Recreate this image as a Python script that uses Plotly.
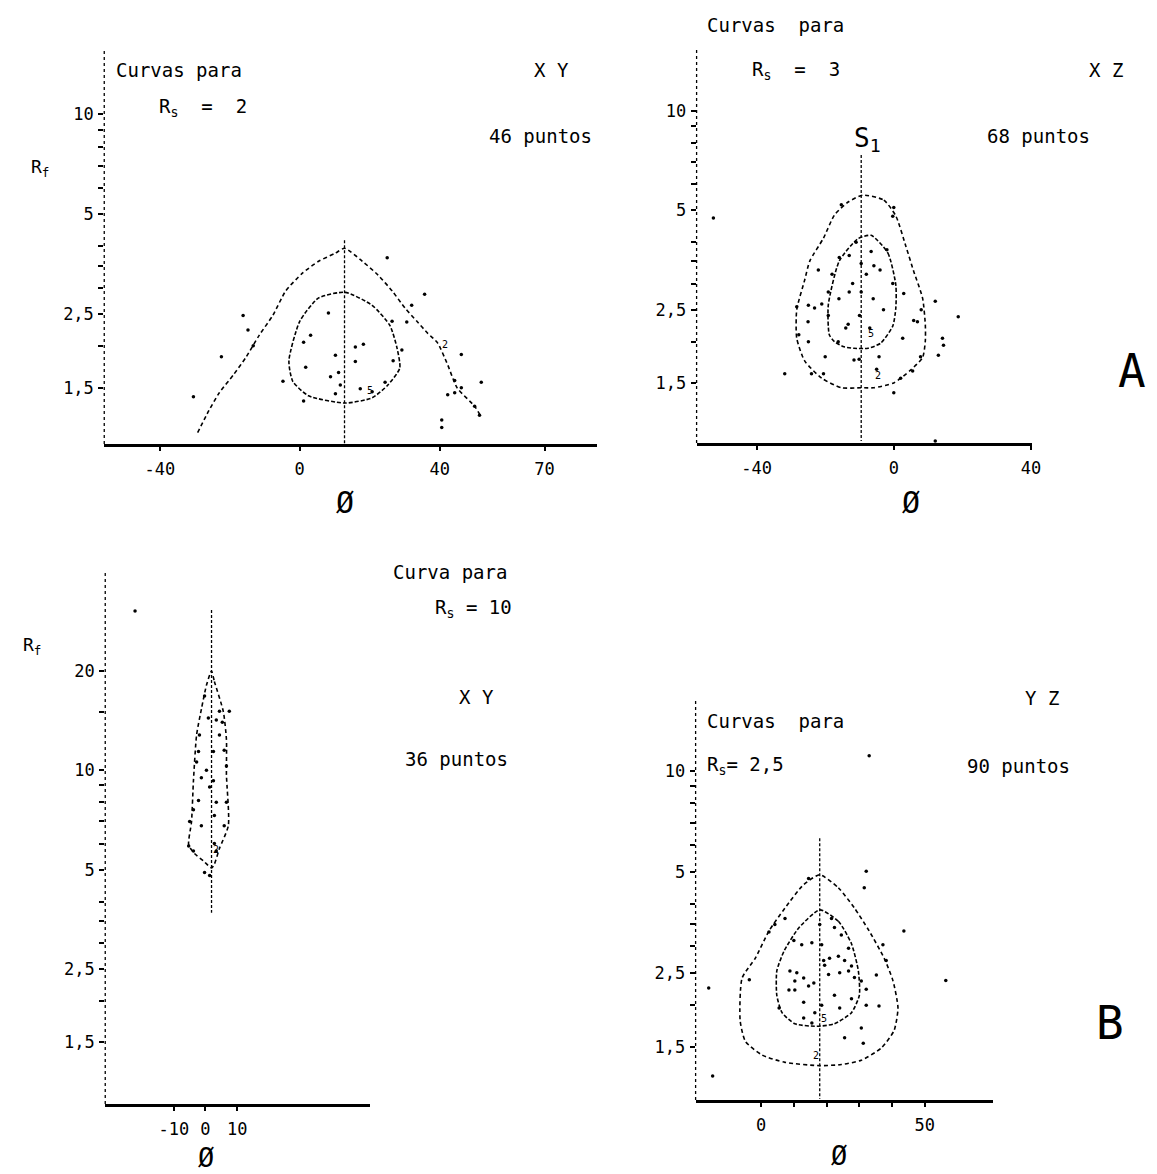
import math
import plotly.graph_objects as go

W, H = 1157, 1174

# ---------------- Panel A-left : XY, Rs = 2, 46 puntos ----------------
a1_outer_phi = [-29.2, -26, -23, -19, -15.3, -11.6, -7.7, -4, 0.85, 5.4, 10.2, 12.8, 17.9, 22.4,
                26.4, 30.1, 33.5, 36.6, 39.4, 42.3, 45, 50, 52]
a1_outer_rf = [1.10, 1.28, 1.45, 1.64, 1.86, 2.16, 2.48, 2.94, 3.33, 3.61, 3.82, 3.95, 3.61, 3.28,
               2.94, 2.61, 2.38, 2.19, 2.05, 1.76, 1.50, 1.32, 1.22]
a1_inner_phi = [13, 20.7, 25.8, 27.8, 28.6, 25.2, 20.7, 13, 2.5, -2, -3.1, 0, 5.4, 13]
a1_inner_rf = [2.91, 2.66, 2.31, 1.98, 1.72, 1.53, 1.40, 1.35, 1.42, 1.57, 1.81, 2.38, 2.80, 2.91]
a1_pts_phi = [-30.4, -22.4, -16.2, -14.8, -13.3, 25, 35.7, 30.6, 26.4, 46.2, 51.9, 44.3, 46.2,
              42.3, 44.3, 50, 51.4, 40.6, 40.6, 3.1, 1.1, 8.2, 10.2, 15.9, 18.2, 15.9, 11.1, 8.8,
              1.7, 11.6, 10.2, 17.3, 24.4, 20.7, 1.1, 29.2, 26.7, -4.8, 32]
a1_pts_rf = [1.41, 1.86, 2.48, 2.24, 2.01, 3.70, 2.87, 2.37, 2.38, 1.89, 1.56, 1.58, 1.50,
             1.43, 1.45, 1.32, 1.24, 1.20, 1.14, 2.16, 2.06, 2.52, 1.88, 1.99, 2.03, 1.80, 1.67, 1.62,
             1.73, 1.53, 1.44, 1.49, 1.56, 1.46, 1.37, 1.95, 1.81, 1.57, 2.66]
a1_mode = (12.8, 4.18, 1.0)
a1_xticks = [-40, 0, 40, 70]

# ---------------- Panel A-right : XZ, Rs = 3, 68 puntos ----------------
a2_outer_phi = [-9, -2.9, 0.6, 3.5, 5.8, 8.4, 9.2, 9.2, 8.4, 4.9, 0, -5.8, -9.5, -15.3, -21, -26,
                -28.3, -28.3, -26, -24.5, -20.5, -17.3, -13.3, -9]
a2_outer_rf = [5.56, 5.37, 4.81, 3.90, 3.27, 2.71, 2.25, 2.01, 1.79, 1.64, 1.50, 1.45, 1.45, 1.45,
               1.55, 1.75, 2.05, 2.50, 3.07, 3.51, 4.12, 4.84, 5.30, 5.56]
a2_inner_phi = [-6.6, -1.7, 0.6, 0.6, -0.3, -3.8, -7.5, -11.6, -14.5, -17.3, -18.8, -19.1, -15.9, -10.5, -6.6]
a2_inner_rf = [4.2, 3.71, 2.97, 2.53, 2.23, 1.98, 1.91, 1.91, 1.93, 2.0, 2.10, 2.58, 3.51, 4.1, 4.2]
a2_pts_phi = [-52.6, -31.8, -28.3, -24.9, -23.1, -19.1, -19.1, -13, -9.5, -15.9, -13, -9.5, -6.6,
              -5.8, -0.3, 2.9, 5.8, 12.1, 18.8, 14.2, 14.5, 13, -16.2, -13.3, -11.6, -10.1, -4.3,
              0, 12.1, 0, -0.3, -15.3, -24, -20.5, 5.5, 7.8, 6.9, 2.6, -21, -24.9, -27.7, -12,
              -8, -4, -16, -6, -10, -3, -14, -7, -18, -2, -11, -22, -25, 8, -20, -5, 2]
a2_pts_rf = [4.74, 1.6, 2.55, 2.58, 2.53, 2.4, 2.83, 2.83, 2.83, 3.6, 3.65, 3.45, 3.75,
             3.4, 3.0, 2.8, 2.32, 2.65, 2.38, 2.05, 1.95, 1.82, 2.0, 2.26, 1.76, 1.77, 1.8,
             1.4, 1.0, 5.1, 4.8, 5.2, 1.6, 1.6, 1.63, 1.8, 2.3, 2.05, 2.6, 2.0, 2.1, 3.0,
             3.2, 3.3, 2.7, 2.7, 2.4, 2.5, 2.2, 2.2, 3.2, 3.8, 4.0, 3.3, 2.3, 2.5, 1.8, 1.65, 1.55]
a2_mode = (-9.5, 7.36, 1.0)
a2_xticks = [-40, 0, 40]

# ---------------- Panel B-left : XY, Rs = 10, 36 puntos ----------------
b1_curve_phi = [1.9, 2.8, 5.6, 6.6, 6.6, 7.2, 4.4, 2.8, 1.9, -0.5, -3.5, -5.3, -4.4, -3.8, -2.8, -1.25, 0.3, 1.9]
b1_curve_rf = [20, 18.6, 15.1, 12.4, 9.7, 6.8, 5.8, 5.2, 5.06, 5.3, 5.6, 5.94, 7.0, 9.3, 12.8, 15.4, 18.1, 20]
b1_pts_phi = [-22.2, 7.5, 4.4, 3.4, 5.3, 5.9, 2.5, 6.6, 0.3, -1.3, 2.5, 1.3, -2.2, -3.8, 3.4, 6.6,
              2.8, -1.3, 5.9, -5, -5.3, -3.8, 2.8, 3.4, -0.3, 1.3, -1.9, -2.8, -2.2, -0.3, 0.9, 4.4]
b1_pts_rf = [30.4, 15.1, 15.1, 14.2, 14.0, 11.5, 11.4, 10.3, 10.0, 9.5, 9.3, 8.9, 8.1, 7.6, 8.0, 8.0,
             7.3, 6.8, 6.8, 7.0, 5.9, 5.7, 6.0, 5.7, 4.9, 4.8, 12.8, 10.6, 11.4, 16.8, 14.4, 12.8]
b1_mode = (1.9, 30.6, 3.7)
b1_xticks = [-10, 0, 10]

# ---------------- Panel B-right : YZ, Rs = 2,5, 90 puntos ----------------
b2_outer_phi = [17.9, 23.6, 28.5, 33, 37.6, 40.3, 41.8, 40.6, 36.7, 30.6, 24.5, 17.9, 7.3, 0.3,
                -4.8, -6.4, -5.8, -1.8, 2.4, 7.3, 13, 17.9]
b2_outer_rf = [4.9, 4.48, 3.9, 3.33, 2.76, 2.36, 1.96, 1.68, 1.49, 1.37, 1.33, 1.32, 1.35, 1.42,
               1.56, 1.80, 2.41, 2.76, 3.33, 3.90, 4.58, 4.9]
b2_inner_phi = [17.9, 23.6, 27.6, 29.7, 30, 27.6, 22.4, 17, 10.3, 6.4, 4.8, 4.8, 7, 11.5, 17.9]
b2_inner_rf = [3.85, 3.56, 3.05, 2.53, 2.14, 1.90, 1.76, 1.73, 1.76, 1.90, 2.14, 2.53, 2.90, 3.40, 3.85]
b2_pts_phi = [33, 32.1, 43.6, 56.4, -16, -14.8, 25.5, 30.6, 36, 38.2, 37.2, 35.2, 32.1, 30.6, 22.4,
              24, 26.7, 20.9, 23.6, 19.1, 18.5, 15.5, 12.4, 10, 17.9, 21.5, 22.4, 24.5, 26.7, 8.8,
              10.9, 13, 10.3, 16.1, 14.5, 10.3, 13, 16.4, 18.5, 24, 27.6, 32.1, 28.5, 4.2, 7.3,
              2.4, 31.5, 14.5, -3.6, 19.4, 25.5, 27.6, 20.6, 8.5, 5.5, 13, 15.5, 31.2]
b2_pts_rf = [11.1, 5.02, 3.33, 2.37, 2.25, 1.23, 1.60, 1.71, 1.99, 2.72, 3.03, 2.46, 2.23, 2.36, 2.14,
             2.50, 2.53, 2.76, 2.80, 2.72, 3.03, 3.07, 3.03, 3.12, 3.48, 3.63, 3.41, 3.24, 2.96, 2.53,
             2.50, 2.41, 2.36, 2.33, 2.28, 2.22, 2.04, 1.90, 2.00, 1.96, 2.09, 2.00, 2.42, 3.48, 3.63,
             3.31, 4.48, 4.78, 2.38, 2.63, 2.72, 2.62, 2.47, 2.22, 1.96, 1.83, 1.77, 1.54]
b2_mode = (17.9, 6.3, 1.05)
b2_xticks = [0, 50]
b2_xminor = [10, 20, 30, 40]

# y tick values (Rf): labelled majors and unlabelled minors
yt_major_a = [10, 5, 2.5, 1.5]
yt_minor_a = [9, 8, 7, 6, 4, 3.5, 3, 2]
yt_major_b1 = [20, 10, 5, 2.5, 1.5]
yt_minor_b1 = [15, 9, 8, 7, 6, 4, 3.5, 3, 2]
ylabels = {20: "20", 10: "10", 5: "5", 2.5: "2,5", 1.5: "1,5"}

MONO = "DejaVu Sans Mono"
BLACK = "black"

panels = [
    dict(xa="x", ya="y", box=(97, 594, 40, 436), xr=(-55.9, 85.1), yr=(0.007, 1.200),
         ytM=yt_major_a, ytm=yt_minor_a, xt=a1_xticks, xm=[],
         outer=(a1_outer_phi, a1_outer_rf), inner=(a1_inner_phi, a1_inner_rf),
         pts=(a1_pts_phi, a1_pts_rf), mode=a1_mode,
         labels=[("2", 41.4, 2.02), ("5", 20.1, 1.47)]),
    dict(xa="x2", ya="y2", box=(694, 1032, 40, 435), xr=(-57.5, 40.3), yr=(-0.006, 1.191),
         ytM=yt_major_a, ytm=yt_minor_a, xt=a2_xticks, xm=[],
         outer=(a2_outer_phi, a2_outer_rf), inner=(a2_inner_phi, a2_inner_rf),
         pts=(a2_pts_phi, a2_pts_rf), mode=a2_mode,
         labels=[("2", -4.6, 1.58), ("5", -6.6, 2.12)]),
    dict(xa="x3", ya="y3", box=(98, 365, 565, 1096), xr=(-31.6, 51.9), yr=(-0.011, 1.598),
         ytM=yt_major_b1, ytm=yt_minor_b1, xt=b1_xticks, xm=[],
         outer=(b1_curve_phi, b1_curve_rf), inner=None,
         pts=(b1_pts_phi, b1_pts_rf), mode=b1_mode,
         labels=[("2", 3.4, 5.74)]),
    dict(xa="x4", ya="y4", box=(693, 993, 692, 1092), xr=(-20, 70.9), yr=(0.018, 1.212),
         ytM=yt_major_a, ytm=yt_minor_a, xt=b2_xticks, xm=b2_xminor,
         outer=(b2_outer_phi, b2_outer_rf), inner=(b2_inner_phi, b2_inner_rf),
         pts=(b2_pts_phi, b2_pts_rf), mode=b2_mode,
         labels=[("5", 19.1, 1.83), ("2", 16.7, 1.42)]),
]

fig = go.Figure()
layout = dict(width=W, height=H, margin=dict(l=0, r=0, t=0, b=0),
              paper_bgcolor="white", plot_bgcolor="white", showlegend=False,
              font=dict(family=MONO, color=BLACK))
annotations = []
shapes = []

for p in panels:
    xa, ya = p["xa"], p["ya"]
    x0, x1, y0, y1 = p["box"]
    xkey = "xaxis" + xa[1:]
    ykey = "yaxis" + ya[1:]
    layout[xkey] = dict(domain=[x0 / W, x1 / W], range=list(p["xr"]), anchor=ya,
                        tickvals=p["xt"], ticktext=[str(v) for v in p["xt"]], showline=True, linewidth=3,
                        linecolor=BLACK, ticks="outside", ticklen=4, tickwidth=2, tickcolor=BLACK,
                        minor=dict(tickvals=p["xm"], ticks="outside", ticklen=4, tickwidth=2,
                                   tickcolor=BLACK, showgrid=False),
                        showgrid=False, zeroline=False, tickfont=dict(family=MONO, size=17, color=BLACK),
                        ticklabelstandoff=4)
    layout[ykey] = dict(domain=[1 - y1 / H, 1 - y0 / H], type="log", range=list(p["yr"]), anchor=xa,
                        tickvals=p["ytM"], ticktext=[ylabels[v] for v in p["ytM"]],
                        minor=dict(tickvals=p["ytm"], ticks="outside", ticklen=5, tickwidth=2,
                                   tickcolor=BLACK, showgrid=False),
                        showline=False, ticks="outside", ticklen=5, tickwidth=2, tickcolor=BLACK,
                        showgrid=False, zeroline=False, tickfont=dict(family=MONO, size=17, color=BLACK),
                        ticklabelstandoff=1)
    shapes.append(dict(type="line", xref=xa + " domain", yref=ya + " domain", x0=0, x1=0, y0=0, y1=1,
                       line=dict(color=BLACK, width=1.3, dash="dot")))
    mphi, mtop, mbot = p["mode"]
    fig.add_trace(go.Scatter(x=[mphi, mphi], y=[mtop, mbot], xaxis=xa, yaxis=ya, mode="lines",
                             line=dict(color=BLACK, width=1.3, dash="3px,2px"), hoverinfo="skip"))
    for c, dash in ((p["outer"], "4px,3px"), (p["inner"], "4px,2px")):
        if c is None:
            continue
        fig.add_trace(go.Scatter(x=c[0], y=c[1], xaxis=xa, yaxis=ya, mode="lines",
                                 line=dict(color=BLACK, width=1.6, dash=dash, shape="spline", smoothing=0.6),
                                 hoverinfo="skip"))
    fig.add_trace(go.Scatter(x=p["pts"][0], y=p["pts"][1], xaxis=xa, yaxis=ya, mode="markers",
                             marker=dict(color=BLACK, size=3.5)))
    for t, lx, ly in p["labels"]:
        annotations.append(dict(text=t, x=lx, y=math.log10(ly), xref=xa, yref=ya, showarrow=False,
                                font=dict(family=MONO, size=10, color=BLACK)))


def ann(text, px, py, size=19, xanchor="left"):
    annotations.append(dict(text=text, x=px / W, y=1 - py / H, xref="paper", yref="paper",
                            xanchor=xanchor, yanchor="middle", showarrow=False,
                            font=dict(family=MONO, size=size, color=BLACK)))


# Panel A-left texts
ann("Curvas para", 107, 62)
ann("R<sub>s</sub>  =  2", 150, 100)
ann("X Y", 548, 62, xanchor="center")
ann("46 puntos", 483, 128)
ann("R<sub>f</sub>", 32, 160, size=18, xanchor="center")
ann("Ø", 340, 495, size=30, xanchor="center")
# Panel A-right texts
ann("Curvas  para", 702, 17)
ann("R<sub>s</sub>  =  3", 748, 62)
ann("X Z", 1107, 62, xanchor="center")
ann("68 puntos", 985, 128)
ann("S<sub>1</sub>", 866, 132, size=26, xanchor="center")
ann("A", 1133, 363, size=46, xanchor="center")
ann("Ø", 910, 495, size=30, xanchor="center")
# Panel B-left texts
ann("R<sub>f</sub>", 24, 638, size=18, xanchor="center")
ann("Curva para", 386, 564)
ann("R<sub>s</sub> = 10", 428, 600)
ann("X Y", 472, 689, xanchor="center")
ann("36 puntos", 398, 751)
ann("Ø", 200, 1149, size=27, xanchor="center")
# Panel B-right texts
ann("Curvas  para", 702, 713)
ann("R<sub>s</sub>= 2,5", 702, 757)
ann("Y Z", 1042, 690, xanchor="center")
ann("90 puntos", 964, 758)
ann("B", 1111, 1015, size=46, xanchor="center")
ann("Ø", 838, 1147, size=27, xanchor="center")

layout["annotations"] = annotations
layout["shapes"] = shapes
fig.update_layout(**layout)
fig.write_html("out.html")
